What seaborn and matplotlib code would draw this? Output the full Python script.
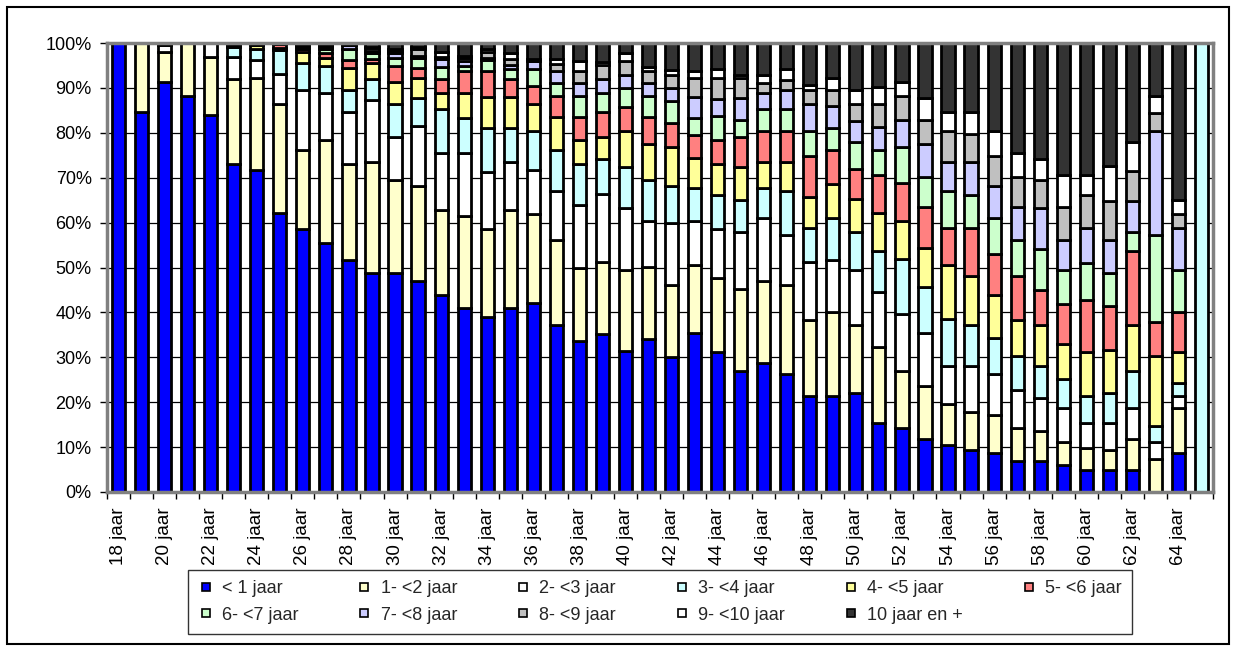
import numpy as np
import pandas as pd
import matplotlib
matplotlib.use("Agg")
import matplotlib.pyplot as plt
from matplotlib.lines import Line2D
from matplotlib.patches import Rectangle
from matplotlib.ticker import PercentFormatter
import seaborn as sns


sns.set_theme(style="white")
plt.rcParams["font.family"] = ["Liberation Sans", "DejaVu Sans"]

ages = list(range(18, 66))
categories = [
    "< 1 jaar", "1- <2 jaar", "2- <3 jaar", "3- <4 jaar", "4- <5 jaar", "5- <6 jaar",
    "6- <7 jaar", "7- <8 jaar", "8- <9 jaar", "9- <10 jaar", "10 jaar en +",
]
colors = [
    "#0000FF", "#FFFFCC", "#FFFFFF", "#CCFFFF", "#FFFF99", "#FF8080",
    "#CCFFCC", "#CCCCFF", "#C0C0C0", "#FFFFFF", "#333333",
]

# share per age (18..65)
lt1 = [100, 84.6, 91.3, 88.2, 84.0, 73.0, 71.8, 62.1, 58.5, 55.5, 51.7, 48.8, 48.7, 47.0, 43.9, 41.0,
       38.9, 41.0, 42.1, 37.1, 33.6, 35.3, 31.5, 34.1, 30.0, 35.4, 31.2, 27.0, 28.7, 26.3, 21.3, 21.3,
       22.0, 15.4, 14.3, 11.8, 10.4, 9.3, 8.7, 6.8, 6.8, 6.1, 5.0, 5.0, 5.0, 0, 8.7, 0]
y1_2 = [0, 15.4, 6.7, 11.8, 12.9, 18.9, 20.3, 24.4, 17.7, 23.0, 21.3, 24.8, 20.8, 21.2, 18.9, 20.4,
        19.6, 21.8, 19.9, 19.0, 16.4, 15.9, 17.9, 15.9, 16.2, 15.1, 16.5, 18.3, 18.2, 19.9, 17.1, 18.9,
        15.3, 16.9, 12.6, 11.7, 9.3, 8.5, 8.4, 7.5, 6.7, 5.0, 4.9, 4.3, 6.7, 7.4, 9.9, 0]
y2_3 = [0, 0, 1.5, 0, 3.1, 4.9, 4.1, 6.6, 13.3, 10.4, 11.6, 13.6, 9.6, 13.3, 12.7, 14.1,
        12.8, 10.8, 9.8, 10.9, 14.0, 15.2, 13.9, 10.4, 13.7, 9.9, 10.9, 12.5, 14.1, 11.1, 12.8, 11.5,
        12.2, 12.2, 12.7, 11.9, 8.3, 10.2, 9.2, 8.5, 7.4, 7.5, 5.5, 6.1, 6.9, 3.7, 2.7, 0]
y3_4 = [0, 0, 0.5, 0, 0, 2.2, 2.5, 5.4, 6.0, 6.0, 4.9, 4.8, 7.4, 6.2, 9.8, 7.9,
        9.7, 7.4, 8.5, 9.1, 9.0, 7.8, 9.0, 9.0, 8.3, 7.2, 7.6, 7.3, 6.6, 9.7, 7.7, 9.3,
        8.3, 9.1, 12.3, 10.3, 10.5, 9.1, 8.0, 7.6, 7.1, 6.6, 5.9, 6.6, 8.3, 3.5, 3.0, 100]
y4_5 = [0, 0, 0, 0, 0, 0.6, 0.8, 0.3, 2.4, 1.8, 4.9, 3.5, 4.8, 4.4, 3.6, 5.5,
        7.0, 7.0, 6.1, 7.4, 5.5, 4.8, 8.0, 8.0, 8.6, 6.8, 6.8, 7.2, 6.0, 6.6, 6.7, 7.7,
        7.5, 8.5, 8.5, 8.6, 12.1, 10.9, 9.5, 8.0, 9.1, 7.8, 9.9, 9.7, 10.2, 15.8, 6.9, 0]
y5_6 = [0, 0, 0, 0, 0, 0.4, 0.5, 1.0, 0.8, 1.1, 1.8, 1.0, 3.6, 2.3, 3.0, 4.8,
        5.7, 3.9, 4.1, 4.6, 5.0, 5.6, 5.5, 6.1, 5.4, 5.2, 5.5, 6.8, 6.7, 6.7, 9.2, 7.4,
        6.6, 8.6, 8.4, 9.1, 8.3, 10.9, 9.1, 9.6, 8.0, 8.9, 11.5, 9.7, 16.5, 7.5, 9.0, 0]
y6_7 = [0, 0, 0, 0, 0, 0, 0, 0.2, 0.5, 0.9, 2.4, 1.3, 1.8, 2.3, 2.7, 1.2,
        2.5, 2.4, 3.8, 3.0, 4.6, 4.3, 4.2, 4.6, 4.8, 3.7, 5.3, 3.7, 5.0, 5.0, 5.5, 5.0,
        6.1, 5.4, 8.0, 6.7, 8.1, 7.3, 8.1, 8.1, 9.1, 7.5, 8.3, 7.4, 4.2, 19.4, 9.2, 0]
y7_8 = [0, 0, 0, 0, 0, 0, 0, 0, 0.3, 0.4, 0.9, 0.5, 1.0, 0.5, 1.9, 1.2,
        0.4, 0.9, 1.8, 2.6, 3.0, 3.0, 2.8, 3.0, 3.0, 4.6, 3.8, 5.0, 3.6, 4.3, 6.1, 4.8,
        4.7, 5.3, 6.1, 7.3, 6.6, 7.4, 7.1, 7.3, 9.1, 6.7, 7.9, 7.3, 6.9, 23.0, 9.5, 0]
y8_9 = [0, 0, 0, 0, 0, 0, 0, 0, 0.2, 0.3, 0.2, 0.5, 0.6, 1.4, 0.4, 0.5,
        1.5, 1.3, 0, 1.6, 2.6, 3.3, 3.3, 2.6, 2.9, 4.2, 4.5, 4.3, 2.3, 2.2, 3.2, 3.7,
        3.7, 5.0, 5.2, 5.5, 6.7, 6.1, 6.7, 6.7, 6.1, 7.3, 7.3, 8.6, 6.7, 4.1, 3.1, 0]
y9_10 = [0, 0, 0, 0, 0, 0, 0, 0, 0.1, 0.2, 0.1, 0.4, 0.3, 0.4, 1.0, 0.6,
         0.6, 1.3, 0.3, 1.2, 2.4, 0.6, 1.7, 1.0, 1.0, 1.6, 2.2, 0.7, 1.7, 2.5, 1.0, 2.5,
         3.1, 3.8, 3.2, 4.9, 4.3, 4.9, 5.5, 5.4, 4.8, 7.1, 4.3, 7.8, 6.6, 3.7, 3.1, 0]
y10p = [0, 0, 0, 0, 0, 0, 0, 0, 0.2, 0.4, 0.2, 0.8, 1.4, 1.0, 2.1, 2.8,
        1.3, 2.2, 3.6, 3.5, 3.9, 4.2, 2.2, 5.3, 6.1, 6.3, 5.7, 7.2, 7.1, 5.7, 9.4, 7.9,
        10.5, 9.8, 8.7, 12.2, 15.4, 15.4, 19.7, 24.5, 25.8, 29.5, 29.5, 27.5, 22.0, 11.9, 34.9, 0]

series = [lt1, y1_2, y2_3, y3_4, y4_5, y5_6, y6_7, y7_8, y8_9, y9_10, y10p]
rows = []
for cat, vals in zip(categories, series):
    for age, v in zip(ages, vals):
        rows.append({"age": age, "duur": cat, "pct": v})
df = pd.DataFrame(rows)
palette = dict(zip(categories, colors))

fig = plt.figure(figsize=(12.36, 6.51), dpi=100)
ax = fig.add_axes([107 / 1236, 1 - 492 / 651, (1213 - 107) / 1236, (492 - 43) / 651])

# seaborn stacks the first hue level on top, so reverse the order
sns.histplot(data=df, x="age", hue="duur", weights="pct", discrete=True, multiple="fill",
             hue_order=categories[::-1], palette=palette, shrink=0.57, alpha=1,
             edgecolor="black", linewidth=2, legend=False, ax=ax)

ax.set_xlim(17.5, 65.5)
ax.set_ylim(0, 1)
ax.set_xlabel("")
ax.set_ylabel("")
ax.set_axisbelow(True)
ax.yaxis.grid(True, color="black", linewidth=0.9)
ax.xaxis.grid(False)

ax.set_yticks(np.linspace(0, 1, 11))
ax.yaxis.set_major_formatter(PercentFormatter(1.0, decimals=0))
ax.tick_params(axis="y", which="major", direction="out", length=5, width=1, pad=6,
               color="black", labelsize=13, labelcolor="black", left=True)

even = [a for a in ages if a % 2 == 0 and a <= 64]
ax.set_xticks(even)
ax.set_xticklabels([f"{a} jaar" for a in even], rotation=90, fontsize=13.5, color="black")
ax.set_xticks(np.arange(17.5, 66, 1), minor=True)
ax.tick_params(axis="x", which="major", length=0, pad=11)
ax.tick_params(axis="x", which="minor", direction="out", length=5, width=1,
               color="black", bottom=True)

for sp in ax.spines.values():
    sp.set_color("#808080")
    sp.set_linewidth(2.5)

# legend is filled column by column, so interleave to get two rows
order = [0, 6, 1, 7, 2, 8, 3, 9, 4, 10, 5]
handles = [Line2D([0], [0], marker="s", linestyle="none", markersize=6,
                  markerfacecolor=colors[i], markeredgecolor="black", markeredgewidth=1.2)
           for i in order]
labels = [categories[i] for i in order]
leg = fig.legend(handles, labels, loc="center", bbox_to_anchor=(660 / 1236, 1 - 602 / 651),
                 ncol=6, fontsize=13, frameon=True, fancybox=False, edgecolor="black",
                 handlelength=0.8, handletextpad=0.5, columnspacing=3.25,
                 borderpad=0.6, labelspacing=0.5)
leg.get_frame().set_linewidth(1)

fig.patches.append(Rectangle((7 / 1236, 7 / 651), 1 - 14 / 1236, 1 - 14 / 651,
                             transform=fig.transFigure, fill=False,
                             edgecolor="black", linewidth=1.5))

fig.savefig("out.png", dpi=100)
